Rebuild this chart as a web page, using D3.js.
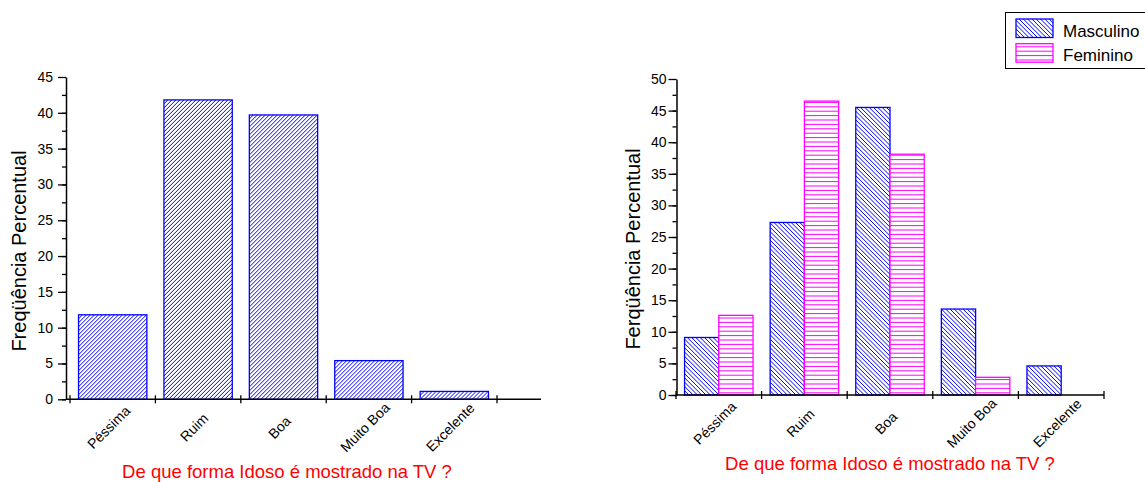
<!DOCTYPE html>
<html>
<head>
<meta charset="utf-8">
<script src="https://cdn.jsdelivr.net/npm/d3@7"></script>
<style>
  body { margin: 0; background: #fff; }
  svg { display: block; font-family: "Liberation Sans", Arial, sans-serif; }
</style>
</head>
<body>
<svg width="1145" height="482"></svg>
<script>
// categories and values
let categories = ["Péssima", "Ruim", "Boa", "Muito Boa", "Excelente"];
let totalValues = [11.8, 41.8, 39.7, 5.4, 1.1];
let maleValues = [9.1, 27.3, 45.5, 13.6, 4.6];
let femaleValues = [12.6, 46.5, 38.1, 2.8, 0];
let seriesNames = ["Masculino", "Feminino"];
let leftTicks = [0, 5, 10, 15, 20, 25, 30, 35, 40, 45];
let rightTicks = [0, 5, 10, 15, 20, 25, 30, 35, 40, 45, 50];

let svg = d3.select("svg");
let defs = svg.append("defs");
let clipCount = 0;

// hatched box: white fill, hatch lines clipped to the box, coloured outline
function hatched_rect(g, x, y, w, h, kind, color) {
    let id = "clip" + (clipCount++);
    defs.append("clipPath").attr("id", id)
        .append("rect").attr("x", x).attr("y", y).attr("width", w).attr("height", h);
    let box = g.append("g");
    box.append("rect")
        .attr("x", x).attr("y", y).attr("width", w).attr("height", h)
        .attr("fill", "#fff");
    let d = "";
    if (kind === "fwd") {
        // "/" lines
        for (let k = -h; k < w + 4; k += 4) d += `M${x + k},${y + h} l${h},${-h}`;
    } else if (kind === "back") {
        // "\" lines
        for (let k = -h; k < w + 4; k += 4.3) d += `M${x + k},${y} l${h},${h}`;
    } else {
        // horizontal lines
        for (let k = y + h - 2.2; k > y; k -= 4.4) d += `M${x},${k} h${w}`;
    }
    box.append("path")
        .attr("d", d)
        .attr("clip-path", `url(#${id})`)
        .attr("stroke", color)
        .attr("stroke-width", 1)
        .attr("fill", "none");
    box.append("rect")
        .attr("x", x).attr("y", y).attr("width", w).attr("height", h)
        .attr("fill", "none")
        .attr("stroke", color)
        .attr("stroke-width", 1.3);
}

function draw_axes(g, x, y, ticks, axisX, xEnd, labelGap) {
    // minor y ticks (half steps)
    let minor = d3.range(ticks[0], ticks[ticks.length - 1], 2.5);
    g.append("g")
        .attr("transform", `translate(${axisX},0)`)
        .call(d3.axisLeft(y).tickValues(minor).tickSize(4).tickFormat(""))
        .call(a => a.select(".domain").remove())
        .selectAll("line").attr("stroke-width", 1.3);

    let yAxis = g.append("g")
        .attr("transform", `translate(${axisX},0)`)
        .call(d3.axisLeft(y).tickValues(ticks).tickSize(8).tickPadding(labelGap).tickSizeOuter(0));
    yAxis.select(".domain").attr("stroke-width", 1.5);
    yAxis.selectAll("line").attr("stroke-width", 1.3);
    yAxis.selectAll("text")
        .style("font-size", "14px")
        .attr("fill", "#000");

    // x axis baseline and ticks at category boundaries
    let y0 = y(0);
    g.append("line")
        .attr("x1", axisX).attr("x2", xEnd)
        .attr("y1", y0).attr("y2", y0)
        .attr("stroke", "#000").attr("stroke-width", 1.5);
    let bounds = d3.range(categories.length + 1).map(i => x.range()[0] + i * x.step());
    g.append("g").selectAll("line")
        .data(bounds)
        .join("line")
        .attr("x1", d => d).attr("x2", d => d)
        .attr("y1", y0 - 4).attr("y2", y0 + 4)
        .attr("stroke", "#000").attr("stroke-width", 1.3);

    // rotated category labels
    g.append("g").selectAll("text")
        .data(categories)
        .join("text")
        .attr("transform", d => `translate(${x(d) + x.bandwidth() / 2 - 4},${y0 + 28}) rotate(-45)`)
        .attr("text-anchor", "middle")
        .attr("dominant-baseline", "central")
        .style("font-size", "14px")
        .text(d => d);
}

function add_titles(g, yLabel, yLabelX, yLabelY, titleX, titleY) {
    g.append("text")
        .attr("transform", `translate(${yLabelX},${yLabelY}) rotate(-90)`)
        .attr("text-anchor", "middle")
        .attr("dominant-baseline", "central")
        .style("font-size", "20px")
        .text(yLabel);

    g.append("text")
        .attr("x", titleX).attr("y", titleY)
        .attr("text-anchor", "middle")
        .attr("fill", "#ff0000")
        .style("font-size", "18.5px")
        .text("De que forma Idoso é mostrado na TV ?");
}

// ---- left chart ----
let left = svg.append("g");
let xL = d3.scaleBand()
    .domain(categories)
    .range([70, 497])
    .paddingInner(0.2)
    .paddingOuter(0.1);
let yL = d3.scaleLinear().domain([0, 45]).range([399.3, 77]);

let leftBars = left.append("g");
totalValues.forEach((v, i) => {
    hatched_rect(leftBars, xL(categories[i]), yL(v), xL.bandwidth(), yL(0) - yL(v), "fwd", "#0000ff");
});

draw_axes(left, xL, yL, leftTicks, 66, 541, 5);
add_titles(left, "Freqüência Percentual", 19, 251, 287, 478);

// ---- right chart ----
let right = svg.append("g");
let xR = d3.scaleBand()
    .domain(categories)
    .range([676, 1104])
    .paddingInner(0.2)
    .paddingOuter(0.1);
let xSub = d3.scaleBand().domain(seriesNames).range([0, xR.bandwidth()]);
let yR = d3.scaleLinear().domain([0, 50]).range([395, 79]);

let kinds = { "Masculino": "back", "Feminino": "horiz" };
let strokes = { "Masculino": "#0000ff", "Feminino": "#ff00ff" };

let rightBars = right.append("g");
categories.forEach((c, i) => {
    [["Masculino", maleValues[i]], ["Feminino", femaleValues[i]]].forEach(([s, v]) => {
        if (v <= 0) return;
        hatched_rect(rightBars, xR(c) + xSub(s), yR(v), xSub.bandwidth(), yR(0) - yR(v), kinds[s], strokes[s]);
    });
});

draw_axes(right, xR, yR, rightTicks, 676.5, 1104, 2);
add_titles(right, "Ferqüência Percentual", 633, 249, 890, 470);

// ---- legend ----
let legend = svg.append("g");
legend.append("rect")
    .attr("x", 1005.5).attr("y", 12.5)
    .attr("width", 145).attr("height", 56)
    .attr("fill", "#fff")
    .attr("stroke", "#000")
    .attr("stroke-width", 1);
seriesNames.forEach((s, i) => {
    let top = 19 + i * 24.7;
    hatched_rect(legend, 1016, top, 37, 18.5, kinds[s], strokes[s]);
    legend.append("text")
        .attr("x", 1063).attr("y", top + 17.5)
        .style("font-size", "17px")
        .text(s);
});
</script>
</body>
</html>
